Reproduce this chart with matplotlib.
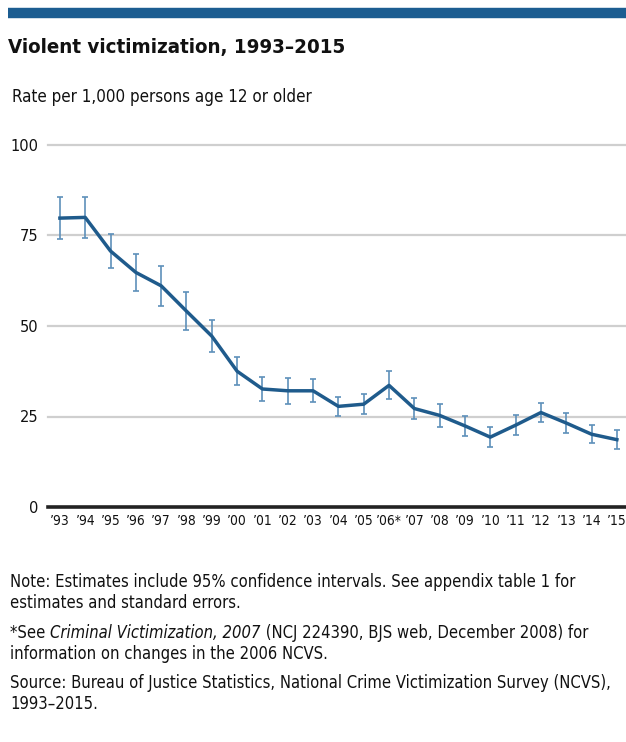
import matplotlib
matplotlib.use("Agg")
import matplotlib.pyplot as plt
from matplotlib import font_manager
from matplotlib.lines import Line2D

years = list(range(1993, 2016))
rates = [79.8, 80.0, 70.7, 64.8, 61.1, 54.1, 47.2, 37.5, 32.6, 32.1, 32.1, 27.8,
         28.4, 33.6, 27.2, 25.3, 22.4, 19.3, 22.6, 26.1, 23.2, 20.1, 18.6]
ci = [5.7, 5.7, 4.8, 5.2, 5.6, 5.2, 4.5, 3.9, 3.4, 3.6, 3.2, 2.7,
      2.8, 3.9, 2.8, 3.2, 2.8, 2.8, 2.8, 2.6, 2.8, 2.5, 2.7]
tick_labels = ["\u201993", "\u201994", "\u201995", "\u201996", "\u201997", "\u201998",
               "\u201999", "\u201900", "\u201901", "\u201902", "\u201903", "\u201904",
               "\u201905", "\u201906*", "\u201907", "\u201908", "\u201909", "\u201910",
               "\u201911", "\u201912", "\u201913", "\u201914", "\u201915"]
y_ticks = [0, 25, 50, 75, 100]

# the original uses a condensed sans, pick the narrowest available
names = {f.name for f in font_manager.fontManager.ttflist}
dejavu_cond = any(f.name == "DejaVu Sans" and str(f.stretch) == "condensed"
                  for f in font_manager.fontManager.ttflist)
if "Liberation Sans Narrow" in names:
    FONT, STRETCH, SCALE = ["Liberation Sans Narrow", "DejaVu Sans"], "normal", 1.0
elif dejavu_cond:
    FONT, STRETCH, SCALE = ["DejaVu Sans"], "condensed", 0.9
else:
    FONT, STRETCH, SCALE = ["Liberation Sans", "DejaVu Sans"], "normal", 0.82
plt.rcParams["font.family"] = FONT
plt.rcParams["font.stretch"] = STRETCH

LINE = "#1f5b8c"
ERR = "#5e90ba"
TXT = "#111111"

fig = plt.figure(figsize=(6.26, 7.42), dpi=100)

# top rule
fig.add_artist(Line2D([8 / 626, 1.0], [1 - 13 / 742, 1 - 13 / 742],
                      color="#1c5d91", linewidth=7.5, solid_capstyle="butt"))

fig.text(8 / 626, 1 - 47 / 742, "Violent victimization, 1993\u20132015",
         fontsize=16.3 * SCALE, fontweight="bold", va="center", ha="left", color=TXT)
fig.text(12 / 626, 1 - 97 / 742, "Rate per 1,000 persons age 12 or older",
         fontsize=13.5 * SCALE, va="center", ha="left", color=TXT)

ax = fig.add_axes([48 / 626, (742 - 507) / 742, 1 - 48 / 626, (507 - 145) / 742])
ax.set_xlim(1992.53, 2015.36)
ax.set_ylim(0, 100)

for y in y_ticks[1:]:
    ax.axhline(y, color="#cfcfcf", linewidth=1.6, zorder=1, clip_on=False)
ax.axhline(0, color="#222222", linewidth=2.6, zorder=3, clip_on=False)

ax.errorbar(years, rates, yerr=ci, fmt="none", ecolor=ERR, elinewidth=1.2,
            capsize=2.2, capthick=1.2, zorder=2, clip_on=False)
ax.plot(years, rates, color=LINE, linewidth=2.5, zorder=4, clip_on=False,
        solid_joinstyle="round")

for s in ax.spines.values():
    s.set_visible(False)
ax.set_yticks(y_ticks)
ax.set_yticklabels([str(v) for v in y_ticks], fontsize=13 * SCALE, color=TXT)
ax.set_xticks(years)
ax.set_xticklabels(tick_labels, fontsize=11 * SCALE, color=TXT)
ax.tick_params(axis="both", length=0)
ax.tick_params(axis="y", pad=7)
ax.tick_params(axis="x", pad=5)

fs = 13.2 * SCALE
note_kw = dict(fontsize=fs, va="baseline", ha="left", color=TXT)
fig.text(10 / 626, 1 - 587 / 742,
         "Note: Estimates include 95% confidence intervals. See appendix table 1 for",
         **note_kw)
fig.text(10 / 626, 1 - 608 / 742, "estimates and standard errors.", **note_kw)
t1 = fig.text(10 / 626, 1 - 638 / 742, "*See ", **note_kw)
t2 = ax.annotate("Criminal Victimization, 2007", xy=(1, 0), xycoords=t1,
                 fontsize=fs, style="italic", va="bottom", ha="left",
                 color=TXT, annotation_clip=False)
ax.annotate(" (NCJ 224390, BJS web, December 2008) for", xy=(1, 0), xycoords=t2,
            fontsize=fs, va="bottom", ha="left", color=TXT,
            annotation_clip=False)
fig.text(10 / 626, 1 - 659 / 742, "information on changes in the 2006 NCVS.", **note_kw)
fig.text(10 / 626, 1 - 688 / 742,
         "Source: Bureau of Justice Statistics, National Crime Victimization Survey (NCVS),",
         **note_kw)
fig.text(10 / 626, 1 - 709 / 742, "1993\u20132015.", **note_kw)

fig.savefig("out.png", dpi=100)
